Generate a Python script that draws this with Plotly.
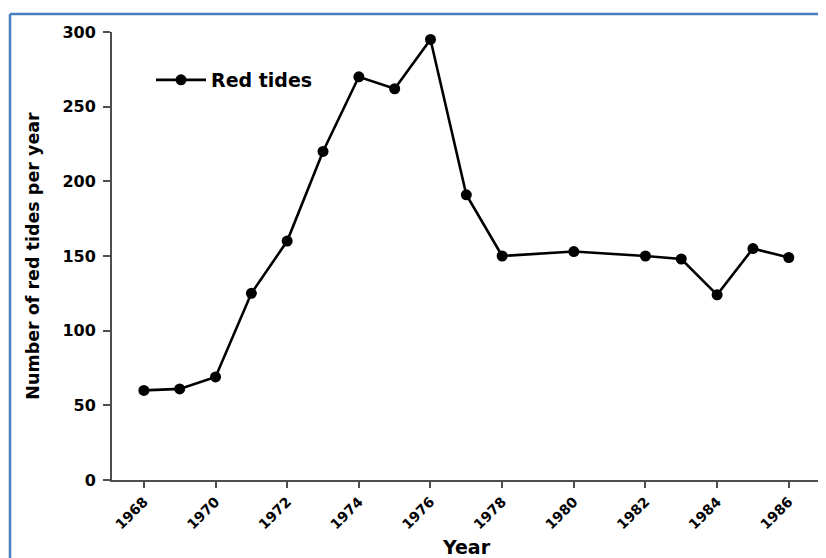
import plotly.graph_objects as go

years = [1968, 1969, 1970, 1971, 1972, 1973, 1974, 1975, 1976, 1977, 1978, 1980, 1982, 1983, 1984, 1985, 1986]
red_tides = [60, 61, 69, 125, 160, 220, 270, 262, 295, 191, 150, 153, 150, 148, 124, 155, 149]
x_ticks = [1968, 1970, 1972, 1974, 1976, 1978, 1980, 1982, 1984, 1986]
y_ticks = [0, 50, 100, 150, 200, 250, 300]

# page body has an 8px margin, so the figure is drawn 8px smaller and all
# target pixel positions are shifted by 8px
OFF = 8
W, H = 826 - OFF, 558 - OFF
L, R, T, B = 112 - OFF, 5, 32 - OFF, 78
pw, ph = W - L - R, H - T - B

def px(x):
    return (x - OFF - L) / pw

def py(y):
    return (H - B - (y - OFF)) / ph

FAM = "DejaVu Sans, Arial, sans-serif"
AX = "#4d4d4d"

fig = go.Figure()
fig.add_trace(go.Scatter(
    x=years, y=red_tides, mode="lines+markers", name="Red tides",
    line=dict(color="black", width=2.6),
    marker=dict(color="black", size=11),
))

fig.update_layout(
    width=W, height=H,
    margin=dict(l=L, r=R, t=T, b=B),
    paper_bgcolor="white", plot_bgcolor="white",
    font=dict(family=FAM, color="black"),
    showlegend=True,
    legend=dict(x=px(151), y=py(80), xanchor="left", yanchor="middle",
                bgcolor="rgba(0,0,0,0)", itemwidth=50,
                font=dict(size=19, weight="bold", family=FAM, color="black")),
    xaxis=dict(
        range=[1967.11, 1986.9], tickvals=x_ticks, ticktext=[str(v) for v in x_ticks],
        tickangle=-45, showgrid=False, zeroline=False, automargin=False,
        showline=True, linecolor=AX, linewidth=2,
        ticks="outside", ticklen=6, tickwidth=2, tickcolor=AX,
        tickfont=dict(size=14, weight="bold", family=FAM, color="black"),
        title=dict(text="Year", standoff=10,
                   font=dict(size=19, weight="bold", family=FAM, color="black")),
    ),
    yaxis=dict(
        range=[0, 300], tickvals=y_ticks, showgrid=False, zeroline=False, automargin=False,
        showline=True, linecolor=AX, linewidth=2,
        ticks="outside", ticklen=7, tickwidth=2, tickcolor=AX,
        ticklabelstandoff=4,
        tickfont=dict(size=16, weight="bold", family=FAM, color="black"),
        title=dict(text="Number of red tides per year", standoff=18,
                   font=dict(size=17.5, weight="bold", family=FAM, color="black")),
    ),
)

fig.add_shape(type="line", xref="paper", yref="paper",
              x0=px(10), x1=px(840), y0=py(14), y1=py(14),
              line=dict(color="#4a7cc0", width=2.5))
fig.add_shape(type="line", xref="paper", yref="paper",
              x0=px(10), x1=px(10), y0=py(14), y1=py(570),
              line=dict(color="#4a7cc0", width=2.5))

fig.write_html("out.html")
